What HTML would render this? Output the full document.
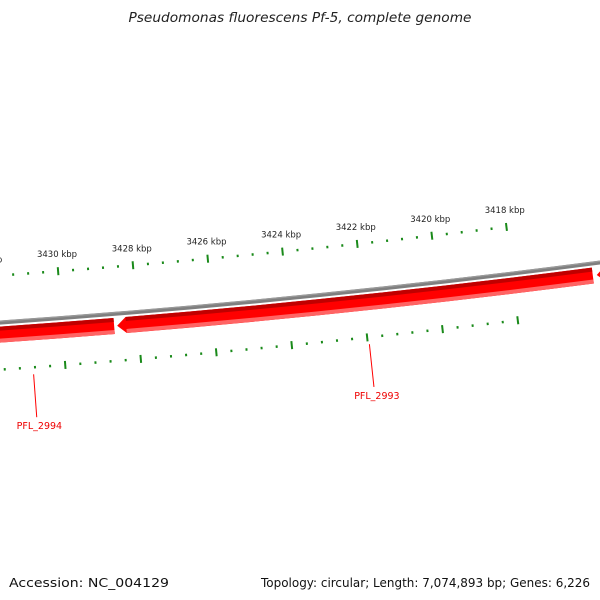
<!DOCTYPE html>
<html><head><meta charset="utf-8"><style>
html,body{margin:0;padding:0;background:#fff;}
svg{display:block;font-family:"DejaVu Sans","Liberation Sans",sans-serif;}
</style></head><body>
<svg id="map" width="600" height="600" viewBox="0 0 600 600" xmlns="http://www.w3.org/2000/svg">
<text x="300" y="22" text-anchor="middle" font-size="13" font-style="italic" fill="#222" textLength="343" lengthAdjust="spacingAndGlyphs">Pseudomonas fluorescens Pf-5, complete genome</text>
<g id="ticks"></g>
<g id="backbone"></g>
<g id="genes"></g>
<text x="9" y="587" font-size="12.5" fill="#111" textLength="160" lengthAdjust="spacingAndGlyphs">Accession: NC_004129</text>
<text x="590" y="587" text-anchor="end" font-size="12.5" fill="#111" textLength="329" lengthAdjust="spacingAndGlyphs">Topology: circular; Length: 7,074,893 bp; Genes: 6,226</text>
</svg>
<script>
// data
const majorTicksKbp = [3418, 3420, 3422, 3424, 3426, 3428, 3430, 3432];
const geneNames = ["PFL_2994", "PFL_2993", "PFL_2992"];
const geneStarts = [3434000, 3428550, 3415780];
const geneEnds = [3428630, 3415885, 3405000];
const geneLabelBp = [3430850, 3421960, null];
const labelledGenes = ["PFL_2994", "PFL_2993"];

// geometry
const NS = "http://www.w3.org/2000/svg";
const cx = -705, cy = -9752.8, R0 = 10100;
const refBp = 3418000, refAng = 0.1208, k = 3.735e-6;
function ang(bp){ return refAng + (refBp - bp) * k; }
function pt(r, bp){ const a = ang(bp); return [cx + r*Math.sin(a), cy + r*Math.cos(a)]; }
function mk(tag, attrs, parent){ const e = document.createElementNS(NS, tag); for (const a in attrs) e.setAttribute(a, attrs[a]); parent.appendChild(e); return e; }
function arcPath(r, bp1, bp2){
  const p1 = pt(r, bp1), p2 = pt(r, bp2);
  const sweep = bp1 > bp2 ? 0 : 1;
  return `M${p1[0].toFixed(2)},${p1[1].toFixed(2)} A${r},${r} 0 0 ${sweep} ${p2[0].toFixed(2)},${p2[1].toFixed(2)}`;
}
const ticksG = document.getElementById('ticks');
const bbG = document.getElementById('backbone');
const genesG = document.getElementById('genes');

// backbone
let bb = mk('path', {d: arcPath(R0, 3436000, 3410000), stroke: '#7f7f7f', 'stroke-width': 4, fill: 'none'}, bbG);


let bb2 = mk('path', {d: arcPath(R0-1.3, 3436000, 3410000), stroke: '#9a9a9a', 'stroke-width': 1.2, fill: 'none'}, bbG);



// ticks
const minBp = Math.min(...majorTicksKbp) * 1000, maxBp = Math.max(...majorTicksKbp) * 1000;
for (let bp = minBp; bp <= maxBp; bp += 400) {
  const major = bp % 2000 === 0;
  const len = major ? 8 : 2.5;
  [R0 - 47, R0 + 47].forEach((rc, i) => {
    const a = pt(rc - len/2, bp), b = pt(rc + len/2, bp);
    const t = mk('line', {x1: a[0], y1: a[1], x2: b[0], y2: b[1], stroke: '#1a8a1a', 'stroke-width': 2}, ticksG);
    
    
  });
}
majorTicksKbp.forEach(kb => {
  const p = pt(R0 - 61, kb * 1000);
  const t = mk('text', {x: p[0], y: p[1], 'text-anchor': 'middle', 'font-size': 8.5, fill: '#222'}, ticksG);
  t.textContent = kb + ' kbp';
  
  
});

// genes (arrows pointing left = increasing bp)
const rTop = R0 + 4, rBot = R0 + 20, head = 9 / (R0 * k);
geneNames.forEach((name, i) => {
  const s = geneStarts[i], e = geneEnds[i];
  const g = mk('g', {}, genesG);
  
  
  const bodyBp = s - head;
  const o1 = pt(rTop, bodyBp), o2 = pt(rTop, e), i2 = pt(rBot, e), i1 = pt(rBot, bodyBp), tip = pt((rTop+rBot)/2, s);
  const d = `M${tip[0]},${tip[1]} L${o1[0]},${o1[1]} A${rTop},${rTop} 0 0 0 ${o2[0]},${o2[1]} L${i2[0]},${i2[1]} A${rBot},${rBot} 0 0 1 ${i1[0]},${i1[1]} Z`;
  const body = mk('path', {d: d, fill: '#ff0000'}, g);
  
  
  const top = mk('path', {d: arcPath(rTop + 2, bodyBp, e), stroke: '#c00000', 'stroke-width': 4, fill: 'none'}, g);
  
  
  const bot = mk('path', {d: arcPath(rBot - 2, bodyBp, e), stroke: '#ff6464', 'stroke-width': 4, fill: 'none'}, g);
  
  
  if (geneLabelBp[i] !== null && labelledGenes.includes(name)) {
    const a = pt(R0 + 54, geneLabelBp[i]), b = pt(R0 + 97, geneLabelBp[i]), c = pt(R0 + 106, geneLabelBp[i]);
    const ln = mk('line', {x1: a[0], y1: a[1], x2: b[0], y2: b[1], stroke: '#ff0000', 'stroke-width': 1}, g);
    
    
    const tx = mk('text', {x: c[0] + 2, y: c[1] + 3, 'text-anchor': 'middle', 'font-size': 9.5, fill: '#ee0000'}, g);
    tx.textContent = name;
    
    
  }
});
</script>
</body></html>
